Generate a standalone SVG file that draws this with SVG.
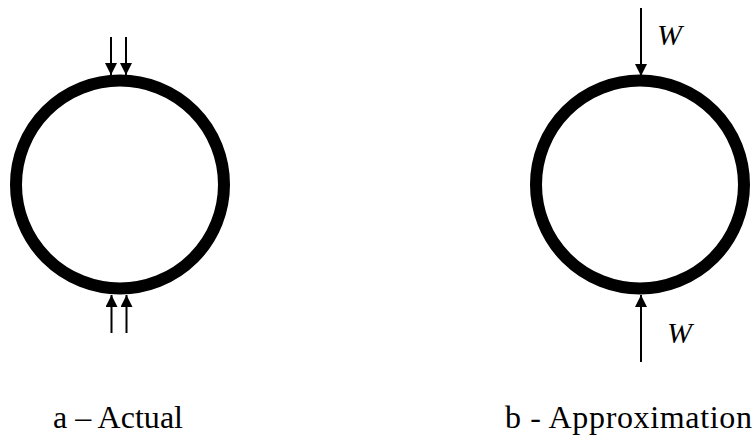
<svg xmlns="http://www.w3.org/2000/svg" width="756" height="441" viewBox="0 0 756 441">
<style>
.ring{fill:none;stroke:#000;stroke-width:12}
.force{stroke:#000;stroke-width:2;fill:none;marker-end:url(#ah)}
.cap{font-family:"Liberation Serif","Times New Roman",Times,serif;font-size:32px;fill:#000}
.lbl{font-family:"Liberation Serif","Times New Roman",Times,serif;font-size:30px;font-style:italic;fill:#000}
</style>
<defs>
<marker id="ah" markerUnits="userSpaceOnUse" markerWidth="12" markerHeight="12" refX="12" refY="6" orient="auto">
<path d="M0,0 L12,6 L0,12 z" fill="#000"/>
</marker>
</defs>
<rect width="756" height="441" fill="#fff"/>
<g id="ring-actual"><circle class="ring" cx="120" cy="184.5" r="104"/></g>
<g id="ring-approx"><circle class="ring" cx="640" cy="184.5" r="104"/></g>
<g id="connectors">
<line class="force" x1="111" y1="37" x2="111" y2="75"/>
<line class="force" x1="126" y1="37" x2="126" y2="75"/>
<line class="force" x1="111.5" y1="333" x2="111.5" y2="295"/>
<line class="force" x1="126.5" y1="333" x2="126.5" y2="295"/>
<line class="force" x1="641" y1="8" x2="641" y2="76"/>
<line class="force" x1="641" y1="362" x2="641" y2="295"/>
</g>
<g id="labels">
<text class="lbl" x="657" y="45">W</text>
<text class="lbl" x="667" y="343">W</text>
<text class="cap" x="53" y="428" textLength="130" lengthAdjust="spacing">a – Actual</text>
<text class="cap" x="505" y="428" textLength="247" lengthAdjust="spacing">b - Approximation</text>
</g>
</svg>
